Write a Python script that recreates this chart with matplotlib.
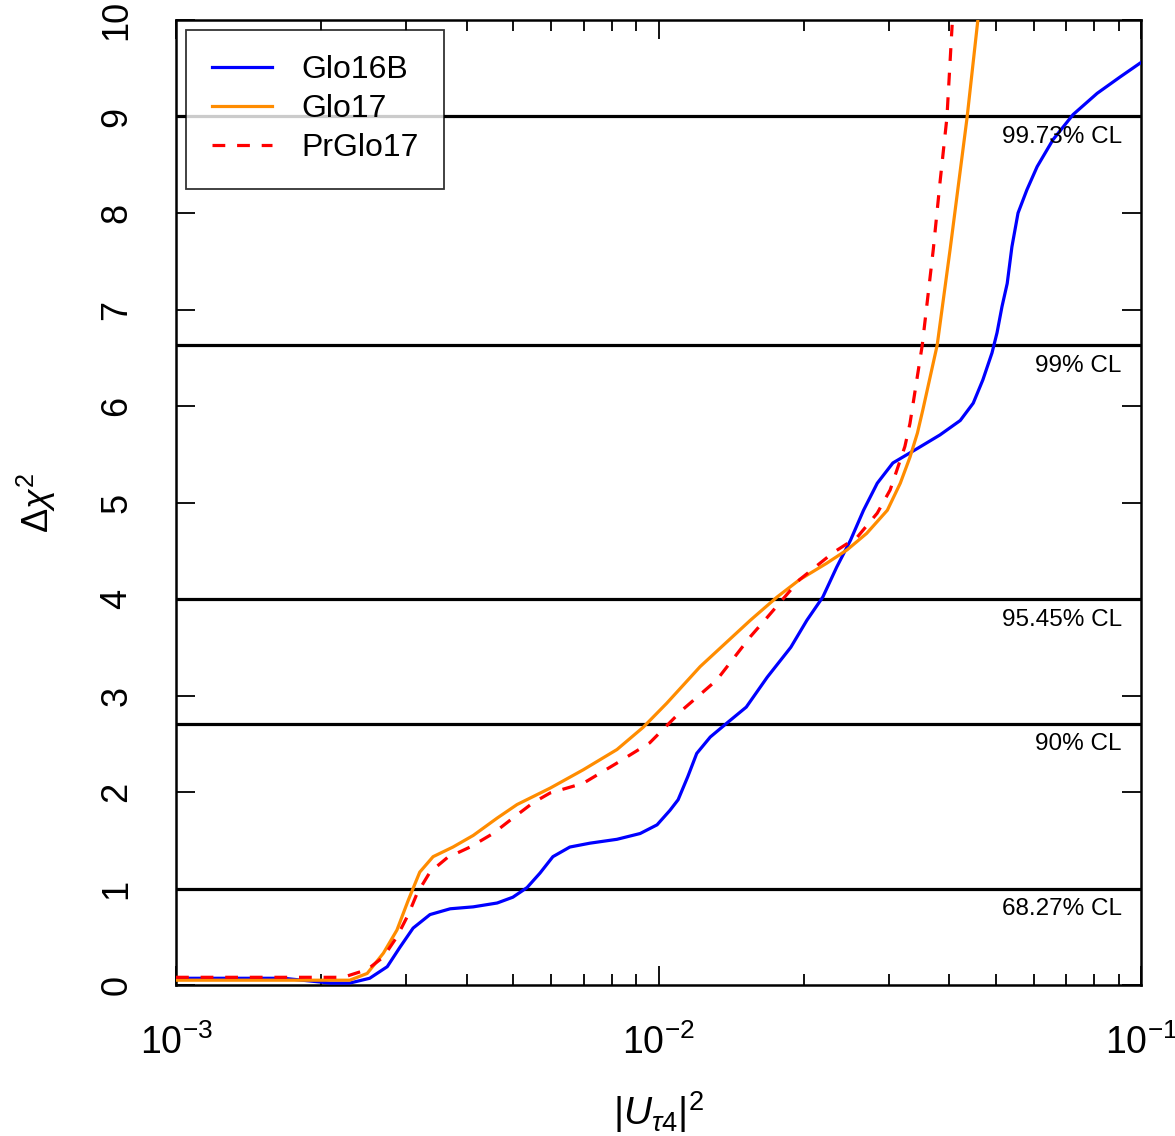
import numpy as np
import matplotlib.pyplot as plt
from matplotlib.ticker import LogLocator, FixedLocator, NullFormatter

plt.rcParams['font.family'] = ['Liberation Sans', 'DejaVu Sans']
plt.rcParams['mathtext.fontset'] = 'custom'
plt.rcParams['mathtext.rm'] = 'Liberation Sans'
plt.rcParams['mathtext.it'] = 'Liberation Sans:italic'

# Glo16B
x_glo16b = [1.0e-3, 1.67e-3, 2.09e-3, 2.29e-3, 2.52e-3, 2.74e-3, 2.91e-3, 3.10e-3,
            3.36e-3, 3.70e-3, 4.13e-3, 4.63e-3, 4.99e-3, 5.34e-3, 5.68e-3, 6.04e-3,
            6.55e-3, 7.21e-3, 8.20e-3, 9.16e-3, 9.93e-3, 1.056e-2, 1.098e-2, 1.15e-2,
            1.20e-2, 1.28e-2, 1.39e-2, 1.52e-2, 1.68e-2, 1.88e-2, 2.03e-2, 2.19e-2,
            2.34e-2, 2.50e-2, 2.66e-2, 2.84e-2, 3.06e-2, 3.44e-2, 3.83e-2, 4.22e-2,
            4.49e-2, 4.70e-2, 4.91e-2, 5.03e-2, 5.15e-2, 5.28e-2, 5.40e-2, 5.56e-2,
            5.80e-2, 6.09e-2, 6.57e-2, 7.23e-2, 8.11e-2, 9.05e-2, 1.0e-1]
y_glo16b = [0.07, 0.07, 0.02, 0.02, 0.07, 0.19, 0.39, 0.59,
            0.73, 0.79, 0.81, 0.85, 0.91, 1.01, 1.16, 1.33,
            1.43, 1.47, 1.51, 1.57, 1.66, 1.81, 1.92, 2.16,
            2.40, 2.57, 2.72, 2.88, 3.19, 3.50, 3.78, 4.02,
            4.33, 4.61, 4.92, 5.20, 5.41, 5.56, 5.70, 5.85,
            6.03, 6.27, 6.55, 6.76, 7.03, 7.27, 7.65, 8.00,
            8.24, 8.48, 8.76, 9.02, 9.24, 9.41, 9.56]

# Glo17
x_glo17 = [1.0e-3, 1.99e-3, 2.29e-3, 2.49e-3, 2.69e-3, 2.87e-3, 3.03e-3, 3.20e-3,
           3.41e-3, 3.75e-3, 4.13e-3, 4.63e-3, 5.09e-3, 5.96e-3, 6.98e-3, 8.20e-3,
           9.29e-3, 1.04e-2, 1.22e-2, 1.55e-2, 1.76e-2, 1.96e-2, 2.23e-2, 2.46e-2,
           2.70e-2, 2.98e-2, 3.17e-2, 3.32e-2, 3.44e-2, 3.53e-2, 3.78e-2, 4.02e-2,
           4.36e-2, 4.59e-2]
y_glo17 = [0.05, 0.05, 0.05, 0.12, 0.33, 0.57, 0.88, 1.17,
           1.33, 1.43, 1.55, 1.73, 1.87, 2.04, 2.23, 2.44,
           2.67, 2.92, 3.30, 3.78, 4.02, 4.20, 4.37, 4.51,
           4.68, 4.92, 5.20, 5.47, 5.72, 5.96, 6.63, 7.62,
           8.99, 10.0]

# PrGlo17
x_prglo17 = [1.0e-3, 2.22e-3, 2.49e-3, 2.69e-3, 2.87e-3, 3.03e-3, 3.16e-3, 3.36e-3,
             3.65e-3, 4.07e-3, 4.54e-3, 4.99e-3, 5.50e-3, 5.96e-3, 6.98e-3, 8.20e-3,
             9.59e-3, 1.12e-2, 1.32e-2, 1.55e-2, 1.68e-2, 1.96e-2, 2.30e-2, 2.58e-2,
             2.84e-2, 3.02e-2, 3.17e-2, 3.24e-2, 3.32e-2, 3.52e-2, 3.71e-2, 3.83e-2,
             3.96e-2, 4.06e-2]
y_prglo17 = [0.08, 0.08, 0.16, 0.29, 0.50, 0.73, 0.95, 1.17,
             1.32, 1.43, 1.57, 1.73, 1.89, 1.99, 2.09, 2.30,
             2.51, 2.85, 3.16, 3.61, 3.81, 4.20, 4.48, 4.64,
             4.89, 5.13, 5.44, 5.58, 5.82, 6.63, 7.62, 8.31,
             8.99, 9.95]

# confidence levels
cl_values = [1.0, 2.71, 4.0, 6.63, 9.0]
cl_labels = ["68.27% CL", "90% CL", "95.45% CL", "99% CL", "99.73% CL"]

fig = plt.figure(figsize=(11.75, 11.36), dpi=100)
ax = fig.add_axes([0.1498, 0.1329, 0.8213, 0.8495])

for v, lab in zip(cl_values, cl_labels):
    ax.axhline(v, color="black", lw=2.3, zorder=2)
    ax.text(0.980, v - 0.1, lab, ha="right", va="top", fontsize=17.5,
            transform=ax.get_yaxis_transform(), zorder=5)

ax.plot(x_glo16b, y_glo16b, color="#0000ff", lw=2.3, label="Glo16B", zorder=3)
ax.plot(x_glo17, y_glo17, color="#ff8c00", lw=2.3, label="Glo17", zorder=3)
ax.plot(x_prglo17, y_prglo17, color="#ff0000", lw=2.3, ls=(0, (4, 3.7)),
        label="PrGlo17", zorder=4)

ax.set_xscale("log")
ax.set_xlim(1e-3, 1e-1)
ax.set_ylim(0, 10)

ax.xaxis.set_major_locator(FixedLocator([1e-3, 1e-2, 1e-1]))
ax.set_xticklabels(["$10^{-3}$", "$10^{-2}$", "$10^{-1}$"])
ax.xaxis.set_minor_locator(LogLocator(base=10, subs=np.arange(2, 10)))
ax.xaxis.set_minor_formatter(NullFormatter())
ax.set_yticks(range(0, 11))

ax.tick_params(which="both", direction="in", top=True, right=True, width=1.3)
ax.tick_params(which="major", length=14)
ax.tick_params(which="minor", length=8)
ax.tick_params(axis="x", which="major", labelsize=27, pad=28)
ax.tick_params(axis="y", which="major", labelsize=26, pad=30, labelrotation=90)
for lbl in ax.get_yticklabels():
    lbl.set_va("center")
for s in ax.spines.values():
    s.set_linewidth(1.8)

ax.set_xlabel(r"$|U_{\tau 4}|^2$", fontsize=28, labelpad=20)
ax.set_ylabel(r"$\Delta\chi^2$", fontsize=26, labelpad=30)

leg = ax.legend(loc="upper left", bbox_to_anchor=(0.0104, 0.99), fontsize=23,
                frameon=True, fancybox=False, edgecolor="black",
                handlelength=1.9, handletextpad=0.9, borderpad=0.8,
                labelspacing=0.28, borderaxespad=0)
leg.get_frame().set_linewidth(1.3)

plt.savefig("out.png", dpi=100)
